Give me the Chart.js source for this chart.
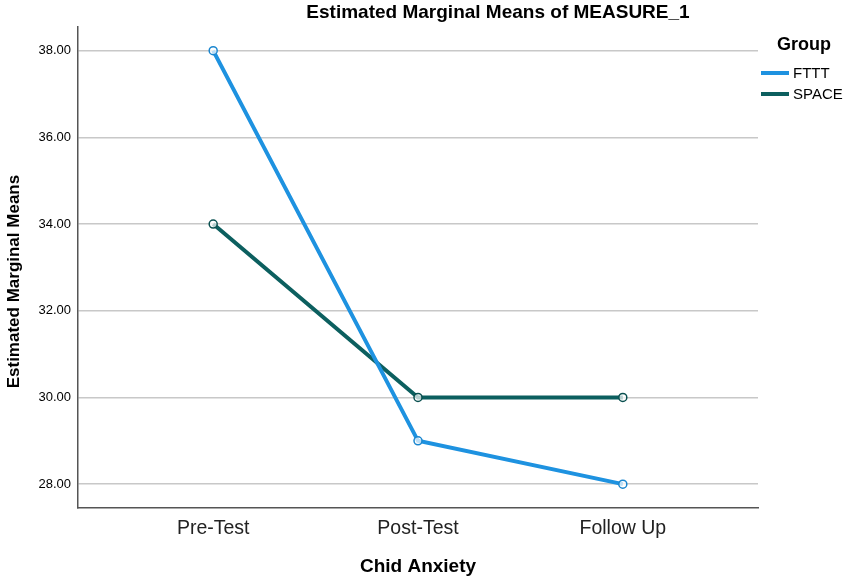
<!DOCTYPE html>
<html>
<head>
<meta charset="utf-8">
<script src="https://cdn.jsdelivr.net/npm/chart.js@4.4.1/dist/chart.umd.min.js"></script>
<style>
  html, body { margin: 0; padding: 0; background: #fff; }
  #wrap { width: 851px; height: 581px; position: relative; }
</style>
</head>
<body>
<div id="wrap"><canvas id="myChart"></canvas></div>
<script>
// categories (x axis) and the two groups
const categories = ['Pre-Test', 'Post-Test', 'Follow Up'];
const fttt = [38.0, 29.0, 28.0];
const space = [34.0, 30.0, 30.0];
const yTicks = [28, 30, 32, 34, 36, 38];

const colFttt = '#1e92e0';
const colSpace = '#0c5f5f';

// legend drawn at the right, SPSS style
const groupLegend = {
    id: 'groupLegend',
    afterLayout(chart) {
        // SPSS centres the title over the whole graph incl. legend area
        if (chart.titleBlock) {
            chart.titleBlock.left = 145;
            chart.titleBlock.right = 851;
        }
    },
    afterDraw(chart) {
        const ctx = chart.ctx;
        ctx.save();
        ctx.fillStyle = '#000';
        ctx.textBaseline = 'middle';
        ctx.textAlign = 'left';
        ctx.font = 'bold 18px "Liberation Sans", Arial, sans-serif';
        ctx.fillText('Group', 777, 45);
        ctx.font = '15px "Liberation Sans", Arial, sans-serif';
        chart.data.datasets.forEach((ds, i) => {
            const y = 73 + i * 21;
            ctx.strokeStyle = ds.borderColor;
            ctx.lineWidth = 4;
            ctx.beginPath();
            ctx.moveTo(761, y);
            ctx.lineTo(789, y);
            ctx.stroke();
            ctx.fillStyle = '#000';
            ctx.fillText(ds.label, 793, y + 1);
        });
        ctx.restore();
    }
};

const ctx = document.getElementById('myChart').getContext('2d');
const myChart = new Chart(ctx, {
    type: 'line',
    data: {
        datasets: [{
            label: 'FTTT',
            data: fttt.map((v, i) => ({ x: i, y: v })),
            borderColor: colFttt,
            backgroundColor: '#ffffff',
            pointBorderColor: '#1a86cf',
            pointBackgroundColor: 'rgba(255,255,255,0.7)',
            borderWidth: 4,
            pointRadius: 4,
            pointBorderWidth: 1.5,
            fill: false
        }, {
            label: 'SPACE',
            data: space.map((v, i) => ({ x: i, y: v })),
            borderColor: colSpace,
            backgroundColor: '#ffffff',
            pointBorderColor: '#0a5050',
            pointBackgroundColor: 'rgba(255,255,255,0.7)',
            borderWidth: 4,
            pointRadius: 4,
            pointBorderWidth: 1.5,
            fill: false
        }]
    },
    options: {
        responsive: true,
        maintainAspectRatio: false,
        animation: false,
        layout: { padding: { top: 0, right: 93, bottom: 0, left: 0 } },
        plugins: {
            legend: { display: false },
            tooltip: { enabled: false },
            title: {
                display: true,
                fullSize: false,
                text: 'Estimated Marginal Means of MEASURE_1',
                color: '#000',
                font: { family: '"Liberation Sans", Arial, sans-serif', size: 19, weight: 'bold' },
                padding: { top: 1, bottom: 3 }
            }
        },
        scales: {
            x: {
                type: 'linear',
                min: -0.66,
                max: 2.66,
                afterBuildTicks: (scale) => { scale.ticks = categories.map((c, i) => ({ value: i })); },
                afterFit: (scale) => { scale.height = 73; },
                grid: { display: false, drawTicks: false },
                border: { display: true, color: '#555', width: 1.5 },
                ticks: {
                    padding: 9,
                    color: '#222',
                    font: { family: '"Liberation Sans", Arial, sans-serif', size: 19.5 },
                    callback: (v) => categories[v]
                },
                title: {
                    display: true,
                    text: 'Chid Anxiety',
                    color: '#000',
                    font: { family: '"Liberation Sans", Arial, sans-serif', size: 19, weight: 'bold' },
                    padding: { top: 0, bottom: 3 }
                }
            },
            y: {
                min: 27.45,
                max: 38.55,
                afterBuildTicks: (scale) => { scale.ticks = yTicks.map(v => ({ value: v })); },
                afterFit: (scale) => { scale.width = 78; },
                grid: { color: '#c8c8c8', lineWidth: 1.5, drawTicks: false },
                border: { display: true, color: '#555', width: 1.5 },
                ticks: {
                    padding: 7,
                    color: '#000',
                    font: { family: '"Liberation Sans", Arial, sans-serif', size: 13 },
                    callback: (v) => Number(v).toFixed(2)
                },
                title: {
                    display: true,
                    // trailing spaces push the label a little lower, as in SPSS
                    text: 'Estimated Marginal Means      ',
                    color: '#000',
                    font: { family: '"Liberation Sans", Arial, sans-serif', size: 17, weight: 'bold' },
                    padding: { top: 4, bottom: 4 }
                }
            }
        }
    },
    plugins: [groupLegend]
});
</script>
</body>
</html>
